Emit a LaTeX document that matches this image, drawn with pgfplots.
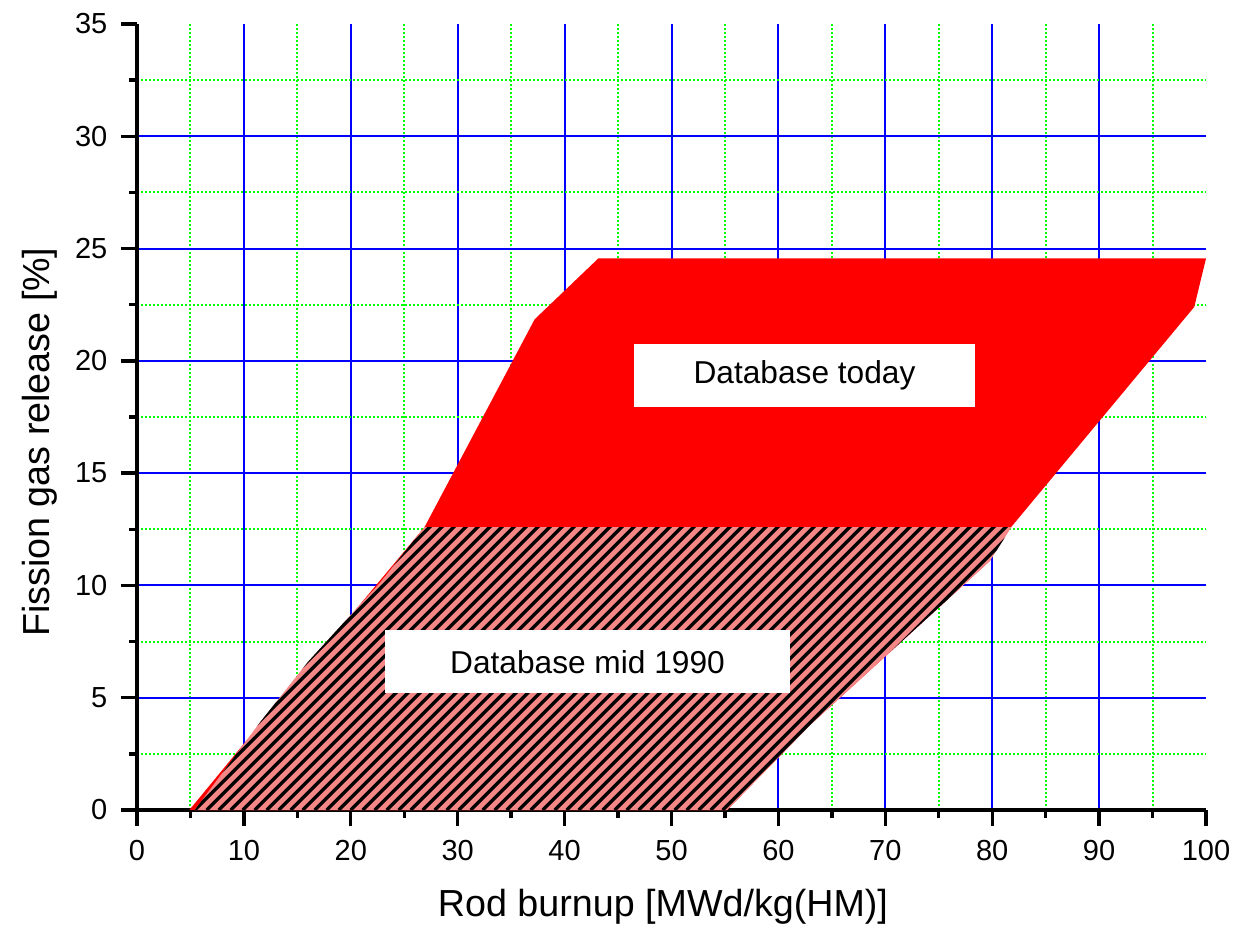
\documentclass[border=0pt]{standalone}
\usepackage{fontspec}
\setmainfont{Liberation Sans}
\usepackage{pgfplots}
\pgfplotsset{compat=1.18}
\definecolor{hatchpink}{RGB}{245,135,135}
\definecolor{gridgreen}{RGB}{0,255,0}
\definecolor{gridblue}{RGB}{0,0,255}
\begin{document}
\begin{tikzpicture}
\begin{axis}[
  name=ax,
  scale only axis, width=320.7pt, height=235.8pt,
  xmin=0, xmax=100, ymin=0, ymax=35,
  axis x line*=bottom, axis y line*=left,
  axis line style={-, line width=1pt, draw=black},
  xtick={10,20,...,90}, extra x ticks={0,100},
  ytick={5,10,...,30}, extra y ticks={0,35},
  extra x tick style={grid=none}, extra y tick style={grid=none},
  minor xtick={5,15,...,95}, minor ytick={2.5,7.5,...,32.5},
  grid=both,
  major grid style={draw=gridblue, line width=0.6pt},
  minor grid style={draw=gridgreen, line width=0.6pt, dash pattern=on 0.55pt off 0.65pt},
  tick align=outside,
  major tick length=4.8pt, minor tick length=2.4pt,
  tick style={draw=black, line width=1pt},
  /pgf/number format/assume math mode=true,
  tick label style={font=\fontsize{8.7}{10}\selectfont},
  xticklabel style={anchor=north, inner sep=0pt, yshift=-4.2pt},
  yticklabel style={anchor=east, inner sep=0pt, xshift=-3.9pt},
  xlabel={Rod burnup [MWd/kg(HM)]},
  ylabel={Fission gas release [\%]},
  xlabel style={font=\fontsize{11.3}{13}\selectfont, at={(axis description cs:0.492,-0.1357)}, anchor=base},
  ylabel style={font=\fontsize{11.3}{13}\selectfont, at={(axis description cs:-0.0814,0.468)}, anchor=base},
]
% Database today (red)
\addplot[draw=none, fill=red] coordinates {
  (4.9,0) (10,2.95) (26.9,12.6) (37.2,21.85) (43.15,24.56) (100,24.56)
  (98.9,22.4) (80.2,11.7) (79.8,11.1) (63,3.8) (55.2,0)
};
% Database mid 1990 (pink base of the hatched area)
\addplot[draw=none, fill=hatchpink] coordinates {
  (5.4,0) (11.5,3.9) (16,6.6) (22.7,10.1) (26.9,12.6) (81.8,12.6)
  (79.8,11.1) (63,3.8) (55.2,0)
};
% outline of the hatched area, for the stripes drawn below
\coordinate (h1) at (axis cs:5.4,0);
\coordinate (h2) at (axis cs:11.5,3.9);
\coordinate (h3) at (axis cs:16,6.6);
\coordinate (h4) at (axis cs:22.7,10.1);
\coordinate (h5) at (axis cs:26.9,12.6);
\coordinate (h6) at (axis cs:81.8,12.6);
\coordinate (h7) at (axis cs:79.8,11.1);
\coordinate (h8) at (axis cs:63,3.8);
\coordinate (h9) at (axis cs:55.2,0);
\coordinate (lab1) at (axis cs:62.44,19.35);
\coordinate (lab2) at (axis cs:42.14,6.6);
\end{axis}
\begin{scope}
\clip (h1)--(h2)--(h3)--(h4)--(h5)--(h6)--(h7)--(h8)--(h9)--cycle;
\foreach \k in {-28,...,72} {
  \draw[black, line width=1pt] ([xshift=\k*3.6pt]h1) -- ++(95pt,95pt);
}
\end{scope}
\node[fill=white, inner sep=0pt, minimum width=102.3pt, minimum height=18.9pt,
  font=\fontsize{9.5}{11}\selectfont] at (lab1) {Database today};
\node[fill=white, inner sep=0pt, minimum width=121.5pt, minimum height=19pt,
  font=\fontsize{9.5}{11}\selectfont] at (lab2) {Database mid 1990};
\pgfresetboundingbox
\path[use as bounding box] ([xshift=-41.1pt,yshift=-35.7pt]ax.south west) rectangle ([xshift=10.2pt,yshift=7.2pt]ax.north east);
\end{tikzpicture}
\end{document}
